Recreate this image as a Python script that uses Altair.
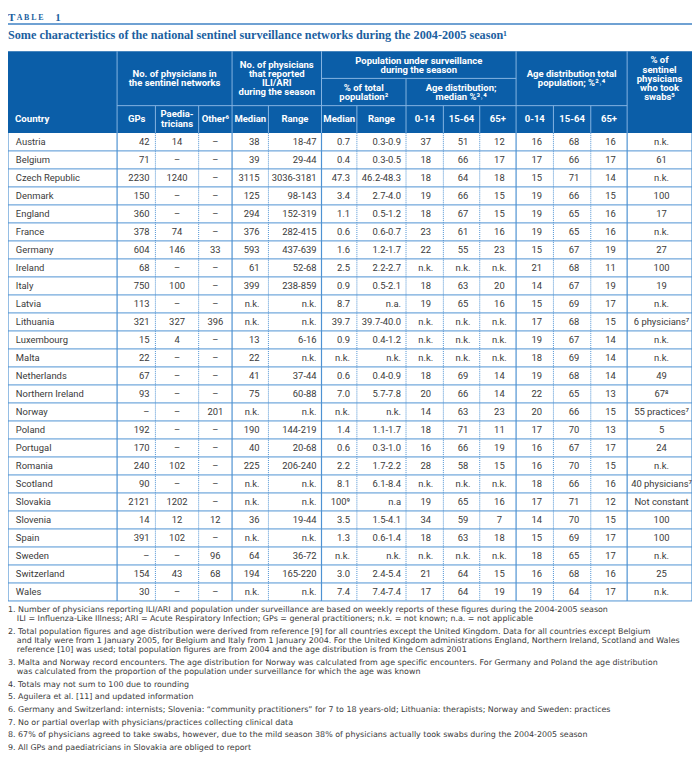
import altair as alt
import pandas as pd

# ---------------- data ----------------
countries = ["Austria", "Belgium", "Czech Republic", "Denmark", "England", "France", "Germany",
             "Ireland", "Italy", "Latvia", "Lithuania", "Luxembourg", "Malta", "Netherlands",
             "Northern Ireland", "Norway", "Poland", "Portugal", "Romania", "Scotland", "Slovakia",
             "Slovenia", "Spain", "Sweden", "Switzerland", "Wales"]
gps = ["42", "71", "2230", "150", "360", "378", "604", "68", "750", "113", "321", "15", "22", "67",
       "93", "–", "192", "170", "240", "90", "2121", "14", "391", "–", "154", "30"]
paed = ["14", "–", "1240", "–", "–", "74", "146", "–", "100", "–", "327", "4", "–", "–",
        "–", "–", "–", "–", "102", "–", "1202", "12", "102", "–", "43", "–"]
other = ["–", "–", "–", "–", "–", "–", "33", "–", "–", "–", "396", "–", "–", "–",
         "–", "201", "–", "–", "–", "–", "–", "12", "–", "96", "68", "–"]
rep_median = ["38", "39", "3115", "125", "294", "376", "593", "61", "399", "n.k.", "n.k.", "13", "22", "41",
              "75", "n.k.", "190", "40", "225", "n.k.", "n.k.", "36", "n.k.", "64", "194", "n.k."]
rep_range = ["18-47", "29-44", "3036-3181", "98-143", "152-319", "282-415", "437-639", "52-68", "238-859",
             "n.k.", "n.k.", "6-16", "n.k.", "37-44", "60-88", "n.k.", "144-219", "20-68", "206-240",
             "n.k.", "n.k.", "19-44", "n.k.", "36-72", "165-220", "n.k."]
pop_median = ["0.7", "0.4", "47.3", "3.4", "1.1", "0.6", "1.6", "2.5", "0.9", "8.7", "39.7", "0.9", "n.k.", "0.6",
              "7.0", "n.k.", "1.4", "0.6", "2.2", "8.1", "100⁹", "3.5", "1.3", "n.k.", "3.0", "7.4"]
pop_range = ["0.3-0.9", "0.3-0.5", "46.2-48.3", "2.7-4.0", "0.5-1.2", "0.6-0.7", "1.2-1.7", "2.2-2.7",
             "0.5-2.1", "n.a.", "39.7-40.0", "0.4-1.2", "n.k.", "0.4-0.9", "5.7-7.8", "n.k.", "1.1-1.7",
             "0.3-1.0", "1.7-2.2", "6.1-8.4", "n.a", "1.5-4.1", "0.6-1.4", "n.k.", "2.4-5.4", "7.4-7.4"]
surv_0_14 = ["37", "18", "18", "19", "18", "23", "22", "n.k.", "18", "19", "n.k.", "n.k.", "n.k.", "18",
             "20", "14", "18", "16", "28", "n.k.", "19", "34", "18", "n.k.", "21", "17"]
surv_15_64 = ["51", "66", "64", "66", "67", "61", "55", "n.k.", "63", "65", "n.k.", "n.k.", "n.k.", "69",
              "66", "63", "71", "66", "58", "n.k.", "65", "59", "63", "n.k.", "64", "64"]
surv_65 = ["12", "17", "18", "15", "15", "16", "23", "n.k.", "20", "16", "n.k.", "n.k.", "n.k.", "14",
           "14", "23", "11", "19", "15", "n.k.", "16", "7", "18", "n.k.", "15", "19"]
tot_0_14 = ["16", "17", "15", "19", "19", "19", "15", "21", "14", "15", "17", "19", "18", "19",
            "22", "20", "17", "16", "16", "18", "17", "14", "15", "18", "16", "19"]
tot_15_64 = ["68", "66", "71", "66", "65", "65", "67", "68", "67", "69", "68", "67", "69", "68",
             "65", "66", "70", "67", "70", "66", "71", "70", "69", "65", "68", "64"]
tot_65 = ["16", "17", "14", "15", "16", "16", "19", "11", "19", "17", "15", "14", "14", "14",
          "13", "15", "13", "17", "15", "16", "12", "15", "17", "17", "16", "17"]
swabs = ["n.k.", "61", "n.k.", "100", "17", "n.k.", "27", "100", "19", "n.k.", "6 physicians⁷", "n.k.",
         "n.k.", "49", "67⁸", "55 practices⁷", "5", "24", "n.k.", "40 physicians⁷", "Not constant",
         "100", "100", "n.k.", "25", "n.k."]

footnotes = [
    "1. Number of physicians reporting ILI/ARI and population under surveillance are based on weekly reports of these figures during the 2004-2005 season",
    "ILI = Influenza-Like Illness; ARI = Acute Respiratory Infection; GPs = general practitioners; n.k. = not known; n.a. = not applicable",
    "2. Total population figures and age distribution were derived from reference [9] for all countries except the United Kingdom. Data for all countries except Belgium",
    "and Italy were from 1 January 2005, for Belgium and Italy from 1 January 2004. For the United Kingdom administrations England, Northern Ireland, Scotland and Wales",
    "reference [10] was used; total population figures are from 2004 and the age distribution is from the Census 2001",
    "3. Malta and Norway record encounters. The age distribution for Norway was calculated from age specific encounters. For Germany and Poland the age distribution",
    "was calculated from the proportion of the population under surveillance for which the age was known",
    "4. Totals may not sum to 100 due to rounding",
    "5. Aguilera et al. [11] and updated information",
    "6. Germany and Switzerland: internists; Slovenia: “community practitioners” for 7 to 18 years-old; Lithuania: therapists; Norway and Sweden: practices",
    "7. No or partial overlap with physicians/practices collecting clinical data",
    "8. 67% of physicians agreed to take swabs, however, due to the mild season 38% of physicians actually took swabs during the 2004-2005 season",
    "9. All GPs and paediatricians in Slovakia are obliged to report",
]
title_text = "Some characteristics of the national sentinel surveillance networks during the 2004-2005 season¹"

# ---------------- layout (reference pixel space) ----------------
col_edges = [2, 113, 152, 196, 230, 267, 321, 357, 407, 445, 482, 519, 557, 595, 632, 698]
group_edges = {2, 113, 230, 321, 519, 632, 698}
head_top, head_bot = 41, 125
row_h = 18.5
n_rows = len(countries)
body_bot = head_bot + n_rows * row_h

BLUE = "#0b5ea8"
TITLE_BLUE = "#1c5f9f"
GRID = "#4e92d2"
HSEP = "#86b4e2"
TXT = "#3a3a3a"
SANS = "Roboto"
NOTE_FONT = "DejaVu Sans"
SERIF = "Liberation Serif"

xs = alt.Scale(domain=[2, 698], range=[0, 690], nice=False, zero=False)
ys = alt.Scale(domain=[0, 762], range=[0, 748], nice=False, zero=False)
X = alt.X("x:Q", scale=xs, axis=None)
Y = alt.Y("y:Q", scale=ys, axis=None)
X2 = alt.X2("x2:Q")
Y2 = alt.Y2("y2:Q")

# body cells
body_cols = [
    (countries, 10, "left"), (gps, 146, "right"), (paed, 174, "center"), (other, 213, "center"),
    (rep_median, 258, "right"), (rep_range, 316, "right"), (pop_median, 350, "right"),
    (pop_range, 402, "right"), (surv_0_14, 427, "center"), (surv_15_64, 465, "center"),
    (surv_65, 502, "center"), (tot_0_14, 540, "center"), (tot_15_64, 578, "center"),
    (tot_65, 615, "center"), (swabs, 667, "center"),
]
cells = []
for vals, xa, al in body_cols:
    for i, v in enumerate(vals):
        cells.append({"x": xa, "y": head_bot + row_h * i + row_h / 2 + 0.3, "t": v, "al": al})
cells = pd.DataFrame(cells)

# header texts
head = [
    ("No. of physicians in", 171.5, 64), ("the sentinel networks", 171.5, 74),
    ("No. of physicians", 275.5, 55), ("that reported", 275.5, 64.5), ("ILI/ARI", 275.5, 74),
    ("during the season", 275.5, 83.5),
    ("Population under surveillance", 420, 51), ("during the season", 420, 60.5),
    ("% of total", 364, 79), ("population²", 364, 88.5),
    ("Age distribution;", 463, 79), ("median %³˒⁴", 463, 88.5),
    ("Age distribution total", 575.5, 64), ("population; %²˒⁴", 575.5, 74),
    ("% of", 665, 50.5), ("sentinel", 665, 60), ("physicians", 665, 69.5), ("who took", 665, 79),
    ("swabs⁵", 665, 88.5),
    ("GPs", 133, 111), ("Paedia-", 174, 106), ("tricians", 174, 116), ("Other⁶", 213, 111),
    ("Median", 248.5, 111), ("Range", 294, 111), ("Median", 339, 111), ("Range", 382, 111),
    ("0-14", 426, 111), ("15-64", 463.5, 111), ("65+", 500.5, 111),
    ("0-14", 538, 111), ("15-64", 576, 111), ("65+", 613.5, 111),
]
head_df = pd.DataFrame([{"t": t, "x": x, "y": y} for t, x, y in head])
head_left = pd.DataFrame([{"t": "Country", "x": 9, "y": 111}])

# header background
bg = pd.DataFrame([{"x": 2, "x2": 698, "y": head_top, "y2": head_bot}])

# header separators
hsep = [
    {"x": 113, "x2": 632, "y": 97, "y2": 97},
    {"x": 321, "x2": 519, "y": 69, "y2": 69},
]
for e in col_edges[1:-1]:
    if e in group_edges:
        top = head_top
    elif e == 407:
        top = 69
    else:
        top = 97
    hsep.append({"x": e, "x2": e, "y": top, "y2": head_bot})
hsep = pd.DataFrame(hsep)

# body grid
vg_solid, vg_dot = [], []
for e in col_edges:
    rec = {"x": e, "x2": e, "y": head_bot, "y2": body_bot}
    (vg_solid if e in group_edges else vg_dot).append(rec)
hg = [{"x": 2, "x2": 698, "y": head_bot + row_h * k, "y2": head_bot + row_h * k} for k in range(1, n_rows + 1)]
vg_solid = pd.DataFrame(vg_solid)
vg_dot = pd.DataFrame(vg_dot)
hg = pd.DataFrame(hg)

# footnotes
fn_y = [615, 625, 638, 647, 656, 670, 679, 692, 705, 718, 731, 744, 757]
fn_x = [2, 11, 2, 11, 11, 2, 11, 2, 2, 2, 2, 2, 2]
fn_df = pd.DataFrame({"t": footnotes, "x": fn_x, "y": fn_y})

title_df = pd.DataFrame([{"t": title_text, "x": 2, "y": 24}])
tbl_big = pd.DataFrame([{"t": "T", "x": 2, "y": 6.5}, {"t": "1", "x": 50, "y": 6.5}])
tbl_small = pd.DataFrame([{"t": "A  B  L  E", "x": 11, "y": 7.2}])
top_rule = pd.DataFrame([{"x": 2, "x2": 698, "y": 13, "y2": 13}])


def txt(df, align, size, color, weight="normal", font=SANS):
    return alt.Chart(df).mark_text(
        align=align, baseline="middle", fontSize=size, fontWeight=weight, color=color, font=font
    ).encode(x=X, y=Y, text="t:N")


def rule(df, color, width, dash=None):
    kw = dict(color=color, strokeWidth=width)
    if dash:
        kw["strokeDash"] = dash
    return alt.Chart(df).mark_rule(**kw).encode(x=X, x2=X2, y=Y, y2=Y2)


layers = [
    alt.Chart(bg).mark_rect(color=BLUE).encode(x=X, x2=X2, y=Y, y2=Y2),
    rule(hsep, HSEP, 1),
    rule(hg, GRID, 1),
    rule(vg_dot, GRID, 1, [1, 1]),
    rule(vg_solid, GRID, 1.2),
    rule(top_rule, "#3f82c4", 1.5),
    txt(head_df, "center", 9.6, "white", "bold"),
    txt(head_left, "left", 9.8, "white", "bold"),
]
for al in ["left", "center", "right"]:
    layers.append(txt(cells[cells["al"] == al][["x", "y", "t"]], al, 9.5, TXT))
layers += [
    txt(fn_df, "left", 8, TXT, font=NOTE_FONT),
    txt(title_df, "left", 12.3, TITLE_BLUE, "bold", SERIF),
    txt(tbl_big, "left", 11, TITLE_BLUE, "bold", SERIF),
    txt(tbl_small, "left", 8, TITLE_BLUE, "bold", SERIF),
]

chart = alt.layer(*layers).properties(
    width=690, height=748, padding=0, autosize=alt.AutoSizeParams(type="none")
).configure_view(stroke=None)

chart.save("out.html", embed_options={"renderer": "svg", "actions": False})
